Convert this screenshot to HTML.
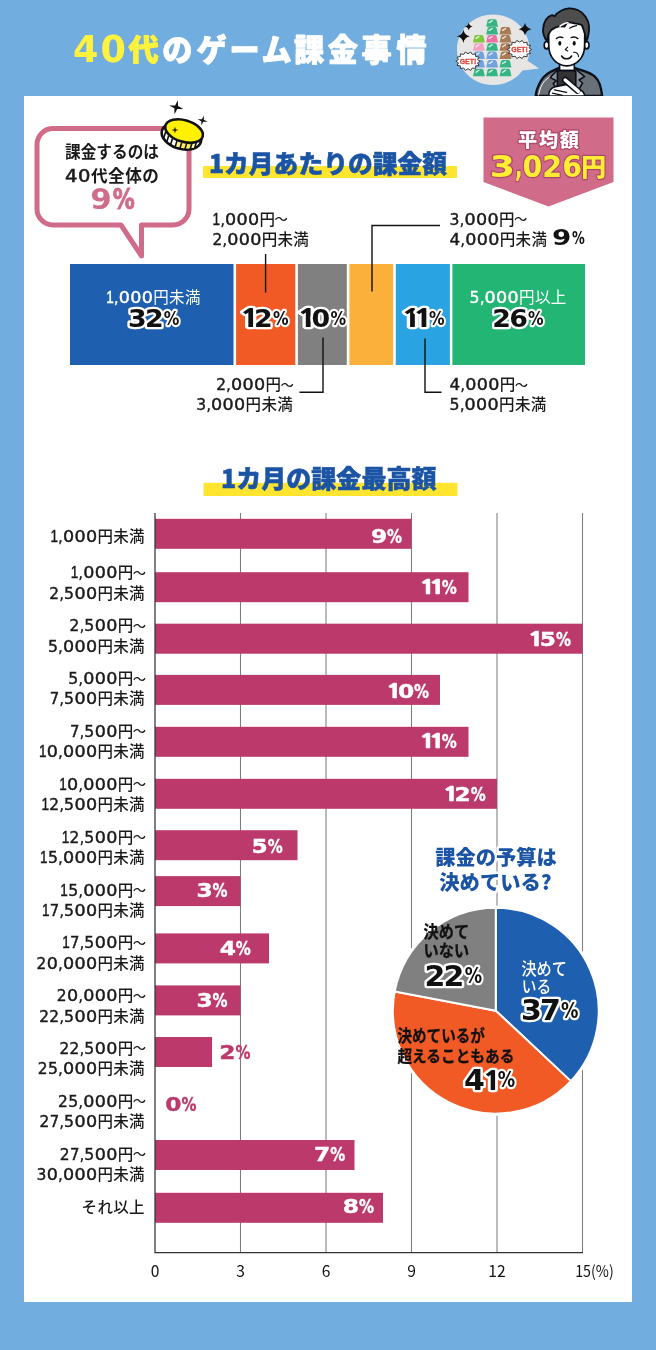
<!DOCTYPE html>
<html lang="ja">
<head>
<meta charset="utf-8">
<title>40代のゲーム課金事情</title>
<style>
html,body{margin:0;padding:0;background:#71AEDF;}
body{width:656px;height:1350px;overflow:hidden;font-family:"Liberation Sans","Noto Sans CJK JP",sans-serif;}
svg{display:block;}
text{white-space:pre;}
</style>
</head>
<body>
<svg width="656" height="1350" viewBox="0 0 656 1350">
<rect x="0" y="0" width="656" height="1350" fill="#71AEDF"/>
<g id="title">
<text y="61.2" text-anchor="middle" font-family="'Liberation Sans','Noto Sans CJK JP',sans-serif" font-size="30.2" font-weight="900" fill="#ffffff" stroke="#ffffff" stroke-width="0.9" stroke-linejoin="round"><tspan x="85.6 113.1" y="62.2" font-family="'DejaVu Sans','Liberation Sans',sans-serif" font-size="36.5" font-weight="700" fill="#FFF23F" stroke="none">40</tspan><tspan x="143.6" y="61.2" fill="#FFF23F" stroke="#FFF23F">代</tspan><tspan x="177.3 211.6 244.5 276.6 309.0 342.9 376.5 411.5" y="61.2">のゲーム課金事情</tspan></text>
</g>
<g id="illust">
<path d="M493,14.5 C513,14.5 529.5,30 529.5,49.5 C529.5,53.5 528.8,57.3 527.5,60.8 L539,68.5 L522.5,70.5 C516,79.3 505.3,85 493,85 C473,85 457,69.3 457,49.8 C457,30.2 473,14.5 493,14.5 Z" fill="#E8E6E4"/>
<path d="M489.2,19.2 H495.0 Q496.3,19.2 496.7,20.7 L498.0,26.7 H486.2 L487.5,20.7 Q487.9,19.2 489.2,19.2 Z" fill="#35B584"/>
<path d="M489.2,22.6 L492.2,20.7" stroke="#ffffff" stroke-width="1.3" stroke-linecap="round" opacity="0.85"/>
<path d="M489.2,27.0 H495.0 Q496.3,27.0 496.7,28.5 L498.0,34.5 H486.2 L487.5,28.5 Q487.9,27.0 489.2,27.0 Z" fill="#35B584"/>
<path d="M489.2,30.4 L492.2,28.5" stroke="#ffffff" stroke-width="1.3" stroke-linecap="round" opacity="0.85"/>
<path d="M502.6,27.0 H508.4 Q509.7,27.0 510.1,28.5 L511.4,34.5 H499.6 L500.9,28.5 Q501.3,27.0 502.6,27.0 Z" fill="#A87B55"/>
<path d="M502.6,30.4 L505.6,28.5" stroke="#ffffff" stroke-width="1.3" stroke-linecap="round" opacity="0.85"/>
<path d="M476.0,35.0 H481.8 Q483.1,35.0 483.5,36.5 L484.8,42.5 H473.0 L474.3,36.5 Q474.7,35.0 476.0,35.0 Z" fill="#7DC83F"/>
<path d="M476.0,38.4 L479.0,36.5" stroke="#ffffff" stroke-width="1.3" stroke-linecap="round" opacity="0.85"/>
<path d="M489.2,35.0 H495.0 Q496.3,35.0 496.7,36.5 L498.0,42.5 H486.2 L487.5,36.5 Q487.9,35.0 489.2,35.0 Z" fill="#EE6FA5"/>
<path d="M489.2,38.4 L492.2,36.5" stroke="#ffffff" stroke-width="1.3" stroke-linecap="round" opacity="0.85"/>
<path d="M502.6,35.0 H508.4 Q509.7,35.0 510.1,36.5 L511.4,42.5 H499.6 L500.9,36.5 Q501.3,35.0 502.6,35.0 Z" fill="#A87B55"/>
<path d="M502.6,38.4 L505.6,36.5" stroke="#ffffff" stroke-width="1.3" stroke-linecap="round" opacity="0.85"/>
<path d="M476.0,43.3 H481.8 Q483.1,43.3 483.5,44.8 L484.8,50.8 H473.0 L474.3,44.8 Q474.7,43.3 476.0,43.3 Z" fill="#F3A1C0"/>
<path d="M476.0,46.7 L479.0,44.8" stroke="#ffffff" stroke-width="1.3" stroke-linecap="round" opacity="0.85"/>
<path d="M489.2,43.3 H495.0 Q496.3,43.3 496.7,44.8 L498.0,50.8 H486.2 L487.5,44.8 Q487.9,43.3 489.2,43.3 Z" fill="#35B584"/>
<path d="M489.2,46.7 L492.2,44.8" stroke="#ffffff" stroke-width="1.3" stroke-linecap="round" opacity="0.85"/>
<path d="M502.6,43.3 H508.4 Q509.7,43.3 510.1,44.8 L511.4,50.8 H499.6 L500.9,44.8 Q501.3,43.3 502.6,43.3 Z" fill="#A87B55"/>
<path d="M502.6,46.7 L505.6,44.8" stroke="#ffffff" stroke-width="1.3" stroke-linecap="round" opacity="0.85"/>
<path d="M476.0,51.6 H481.8 Q483.1,51.6 483.5,53.1 L484.8,59.1 H473.0 L474.3,53.1 Q474.7,51.6 476.0,51.6 Z" fill="#6FA3DD"/>
<path d="M476.0,55.0 L479.0,53.1" stroke="#ffffff" stroke-width="1.3" stroke-linecap="round" opacity="0.85"/>
<path d="M489.2,51.6 H495.0 Q496.3,51.6 496.7,53.1 L498.0,59.1 H486.2 L487.5,53.1 Q487.9,51.6 489.2,51.6 Z" fill="#6FA3DD"/>
<path d="M489.2,55.0 L492.2,53.1" stroke="#ffffff" stroke-width="1.3" stroke-linecap="round" opacity="0.85"/>
<path d="M502.6,51.6 H508.4 Q509.7,51.6 510.1,53.1 L511.4,59.1 H499.6 L500.9,53.1 Q501.3,51.6 502.6,51.6 Z" fill="#A87B55"/>
<path d="M502.6,55.0 L505.6,53.1" stroke="#ffffff" stroke-width="1.3" stroke-linecap="round" opacity="0.85"/>
<path d="M476.0,60.1 H481.8 Q483.1,60.1 483.5,61.6 L484.8,67.6 H473.0 L474.3,61.6 Q474.7,60.1 476.0,60.1 Z" fill="#6FA3DD"/>
<path d="M476.0,63.5 L479.0,61.6" stroke="#ffffff" stroke-width="1.3" stroke-linecap="round" opacity="0.85"/>
<path d="M489.2,60.1 H495.0 Q496.3,60.1 496.7,61.6 L498.0,67.6 H486.2 L487.5,61.6 Q487.9,60.1 489.2,60.1 Z" fill="#6FA3DD"/>
<path d="M489.2,63.5 L492.2,61.6" stroke="#ffffff" stroke-width="1.3" stroke-linecap="round" opacity="0.85"/>
<path d="M502.6,60.1 H508.4 Q509.7,60.1 510.1,61.6 L511.4,67.6 H499.6 L500.9,61.6 Q501.3,60.1 502.6,60.1 Z" fill="#35B584"/>
<path d="M502.6,63.5 L505.6,61.6" stroke="#ffffff" stroke-width="1.3" stroke-linecap="round" opacity="0.85"/>
<path d="M476.0,68.8 H481.8 Q483.1,68.8 483.5,70.3 L484.8,76.3 H473.0 L474.3,70.3 Q474.7,68.8 476.0,68.8 Z" fill="#35B584"/>
<path d="M476.0,72.2 L479.0,70.3" stroke="#ffffff" stroke-width="1.3" stroke-linecap="round" opacity="0.85"/>
<path d="M489.2,68.8 H495.0 Q496.3,68.8 496.7,70.3 L498.0,76.3 H486.2 L487.5,70.3 Q487.9,68.8 489.2,68.8 Z" fill="#35B584"/>
<path d="M489.2,72.2 L492.2,70.3" stroke="#ffffff" stroke-width="1.3" stroke-linecap="round" opacity="0.85"/>
<path d="M502.6,68.8 H508.4 Q509.7,68.8 510.1,70.3 L511.4,76.3 H499.6 L500.9,70.3 Q501.3,68.8 502.6,68.8 Z" fill="#35B584"/>
<path d="M502.6,72.2 L505.6,70.3" stroke="#ffffff" stroke-width="1.3" stroke-linecap="round" opacity="0.85"/>
<polygon points="531.7,49.5 529.0,51.2 530.5,53.5 527.1,54.1 527.1,56.8 523.7,56.2 522.2,58.6 519.5,56.9 516.8,58.6 515.3,56.2 511.9,56.8 511.9,54.1 508.5,53.5 510.0,51.2 507.3,49.5 510.0,47.8 508.5,45.5 511.9,44.9 511.9,42.2 515.3,42.8 516.8,40.4 519.5,42.1 522.2,40.4 523.7,42.8 527.1,42.2 527.1,44.9 530.5,45.5 529.0,47.8" fill="#ffffff" stroke="#2a2a2a" stroke-width="0.9" stroke-linejoin="round"/>
<text x="519.6" y="52.1" text-anchor="middle" font-family="'Liberation Sans','Noto Sans CJK JP',sans-serif" font-size="7.2" font-weight="700" fill="#E2483D" stroke="#E2483D" stroke-width="0.3" textLength="16.6" lengthAdjust="spacingAndGlyphs">GET!</text>
<polygon points="480.2,61.2 477.5,62.9 479.0,65.3 475.6,65.9 475.6,68.5 472.2,68.0 470.7,70.4 468.0,68.7 465.3,70.4 463.8,68.0 460.4,68.5 460.4,65.9 457.0,65.3 458.5,62.9 455.8,61.2 458.5,59.5 457.0,57.1 460.4,56.5 460.4,53.9 463.8,54.4 465.3,52.0 468.0,53.7 470.7,52.0 472.2,54.4 475.6,53.9 475.6,56.5 479.0,57.1 477.5,59.5" fill="#ffffff" stroke="#2a2a2a" stroke-width="0.9" stroke-linejoin="round"/>
<text x="468" y="63.8" text-anchor="middle" font-family="'Liberation Sans','Noto Sans CJK JP',sans-serif" font-size="7.2" font-weight="700" fill="#E2483D" stroke="#E2483D" stroke-width="0.3" textLength="16.6" lengthAdjust="spacingAndGlyphs">GET!</text>
<path d="M463.4,29.699999999999996 Q464.45599999999996,35.244 470.0,36.3 Q464.45599999999996,37.355999999999995 463.4,42.9 Q462.344,37.355999999999995 456.79999999999995,36.3 Q462.344,35.244 463.4,29.699999999999996 Z" fill="#111"/>
<path d="M468.7,22.4 Q469.34,25.759999999999998 472.7,26.4 Q469.34,27.04 468.7,30.4 Q468.06,27.04 464.7,26.4 Q468.06,25.759999999999998 468.7,22.4 Z" fill="#111"/>
<path d="M525.0,22.799999999999997 Q526.024,28.176 531.4,29.2 Q526.024,30.224 525.0,35.6 Q523.976,30.224 518.6,29.2 Q523.976,28.176 525.0,22.799999999999997 Z" fill="#111"/>
<g id="man" stroke-linejoin="round" stroke-linecap="round">
<path d="M535.6,96 C536.3,91 537.4,87.6 538.8,85 C540.3,81.6 542,79 543.8,77 C546,74.8 548.6,73 551,71.6 L559.2,67.8 L566.8,79 L574.3,67.8 L585,71.3 C589,72.8 592.3,74.3 594.6,76.3 C597.2,78.6 598.8,81.3 599.8,84.3 C601,88 601.7,92 602.2,96 Z" fill="#6A7078" stroke="#0b0f18" stroke-width="2.3"/>
<path d="M538.6,95 C539.6,89 541.6,84.2 545,80.6 C547,78.6 549,77.2 551.2,76" fill="none" stroke="#ffffff" stroke-width="1" opacity="0.9"/>
<path d="M558.8,68.5 L550.2,77.6 L556.2,80.6 L553.2,83.6 L561,96" fill="#8A9097" stroke="#0b0f18" stroke-width="1.5"/>
<path d="M574.8,68.5 L584.6,76.6 L579,80 L582.6,83 L575,96" fill="#8A9097" stroke="#0b0f18" stroke-width="1.5"/>
<path d="M559.6,70.6 L559.6,62 H574.2 L574.4,70.6 Z" fill="#ffffff" stroke="#0b0f18" stroke-width="1.6"/>
<ellipse cx="546.6" cy="45.2" rx="2.4" ry="3.7" fill="#ffffff" stroke="#0b0f18" stroke-width="1.6"/>
<ellipse cx="586.6" cy="45.2" rx="2.4" ry="3.7" fill="#ffffff" stroke="#0b0f18" stroke-width="1.6"/>
<path d="M548.6,33 C548.6,24 557,20.5 567,20.5 C577,20.5 584.8,24 584.8,33 L584.6,46 C584.6,57 577,65.8 566.7,65.8 C556.5,65.8 548.8,57 548.8,46 Z" fill="#ffffff" stroke="#0b0f18" stroke-width="1.7"/>
<path d="M547.2,41.5 C544,37 542.6,33 543,29.5 C543.4,25 544.4,22 546,19.6 C547.6,17.4 549.6,16 552,15.2 L554.8,16.2 C556.4,13.6 558.6,12 561,10.8 C563.6,9.4 566,8.6 568.8,8.4 C572,8.2 575,8.8 577.8,10 C581,11.4 583.6,13.8 585.6,16.8 C587.6,19.8 588.8,22.8 589,26 C589.2,29.4 589,32 588.4,34.8 C588,37.4 587.2,39.6 586.2,41.6 C585.8,37 585,33 583.6,29.8 C583,27.8 582.4,26.2 581.6,24.8 C579.4,24.2 577,23.6 574.6,23.3 C572,22.6 570,22.2 567.7,22 C566.5,23.6 565.4,25 564.6,26.6 C562.8,26.2 560.6,26.2 558.8,26.3 C556,27 553.8,28.2 551.8,29.7 C550.2,31.2 549.2,32.8 548.4,34.7 C547.8,37 547.4,39.2 547.2,41.5 Z" fill="#4D4D4D" stroke="#0b0f18" stroke-width="1.8"/>
<path d="M560,26.2 C562.4,24.2 565,23 568,22.6" fill="none" stroke="#ffffff" stroke-width="1.5"/>
<path d="M569.6,28.2 C571.6,26.8 574,26 576.6,25.6" fill="none" stroke="#0b0f18" stroke-width="1.2"/>
<path d="M556.3,38.6 C558.3,36.9 560.8,36.7 562.8,37.6" fill="none" stroke="#111" stroke-width="1.4"/>
<path d="M571.2,37.6 C573.2,36.7 575.8,36.9 577.8,38.6" fill="none" stroke="#111" stroke-width="1.4"/>
<ellipse cx="559.8" cy="43.3" rx="1.5" ry="2.4" fill="#111"/>
<ellipse cx="574.2" cy="43.3" rx="1.5" ry="2.4" fill="#111"/>
<path d="M567.6,47.2 L565.2,49.6 L567.6,51" fill="none" stroke="#111" stroke-width="1.2"/>
<path d="M561.6,56 C564,59.8 569.2,59.8 571.6,56" fill="none" stroke="#111" stroke-width="1.5"/>
<path d="M573.6,52.2 C576.5,52 578.3,54 578.6,56.6" fill="none" stroke="#111" stroke-width="1.1"/>
<path d="M559.2,70.6 H574 Q575.8,70.6 575.8,72.4 V96 H557.4 V72.4 Q557.4,70.6 559.2,70.6 Z" fill="#333333" stroke="#0b0f18" stroke-width="1.6"/>
<path d="M548.8,96 C548.6,91.4 551.2,87.8 555.6,86.6 L565.5,84.6 L579.5,89.6 C582.8,91 584.4,93.4 584.8,96 Z" fill="#ffffff" stroke="#0b0f18" stroke-width="1.6"/>
<path d="M565.2,80 L577.4,90.6" fill="none" stroke="#0b0f18" stroke-width="6.4"/>
<path d="M565.2,80 L578.4,91.4" fill="none" stroke="#ffffff" stroke-width="3.5"/>
<path d="M554.4,89.8 L566.6,92.4 M552.4,93.2 L562.4,95.4" fill="none" stroke="#0b0f18" stroke-width="1.3"/>
</g>
</g>
<rect x="24" y="96" width="608" height="1206" fill="#ffffff"/>
<g id="top">
<rect x="203" y="166" width="254" height="12" fill="#FFE530"/>
<text x="209" y="172.6" font-family="'Noto Sans CJK JP','Liberation Sans',sans-serif" font-size="25" font-weight="900" fill="#1B54A4" stroke="#1B54A4" stroke-width="0.5" textLength="238" lengthAdjust="spacingAndGlyphs">1カ月あたりの課金額</text>
<path d="M53,128.5 H173 A16,16 0 0 1 189,144.5 V209 A16,16 0 0 1 173,225 H141.5 V256 L121,225 H53 A16,16 0 0 1 37,209 V144.5 A16,16 0 0 1 53,128.5 Z" fill="#ffffff" stroke="#D06C89" stroke-width="5" stroke-linejoin="round"/>
<text x="65" y="157.6" font-family="'Liberation Sans','Noto Sans CJK JP',sans-serif" font-size="16.6" font-weight="700" fill="#1a1a1a" textLength="94" lengthAdjust="spacingAndGlyphs">課金するのは</text>
<text x="65" y="181.8" font-family="'Liberation Sans','Noto Sans CJK JP',sans-serif" font-size="16.6" font-weight="700" fill="#1a1a1a" letter-spacing="0.5"><tspan font-family="'DejaVu Sans','Liberation Sans',sans-serif" font-size="17" font-weight="400" stroke="#1a1a1a" stroke-width="0.55" textLength="26" lengthAdjust="spacingAndGlyphs">40</tspan>代全体の</text>
<text x="90.3" y="209.3" font-family="'DejaVu Sans','Liberation Sans',sans-serif" font-size="28.5" font-weight="700" fill="#D06C89"><tspan textLength="21.5" lengthAdjust="spacingAndGlyphs">9</tspan><tspan dx="1" font-size="28" stroke="#D06C89" stroke-width="0.9" textLength="22" lengthAdjust="spacingAndGlyphs">%</tspan></text>
<g id="coin">
<path transform="rotate(14 176.2 107.2)" d="M176.2,100 L177.7,105.7 L183.4,107.2 L177.7,108.7 L176.2,114.4 L174.7,108.7 L169,107.2 L174.7,105.7 Z" fill="#111"/>
<path transform="rotate(14 202.6 120.5)" d="M202.6,115.3 L203.6,119.5 L207.8,120.5 L203.6,121.5 L202.6,125.7 L201.6,121.5 L197.4,120.5 L201.6,119.5 Z" fill="#111"/>
<g transform="translate(183,133.2) rotate(17)">
<ellipse cx="-0.6" cy="3.4" rx="20.3" ry="12.6" fill="#ffffff" stroke="#111" stroke-width="2.6"/>
<line x1="-1.0" y1="7.6" x2="-1.0" y2="14.6" stroke="#FFF780" stroke-width="3.4"/>
<line x1="4.0" y1="7.3" x2="4.0" y2="14.3" stroke="#FFF23C" stroke-width="3.4"/>
<line x1="9.0" y1="6.1" x2="9.0" y2="13.1" stroke="#FFF23C" stroke-width="3.4"/>
<line x1="13.5" y1="4.1" x2="13.5" y2="11.1" stroke="#FFF9A0" stroke-width="3.4"/>
<line x1="-17.0" y1="3.6" x2="-17.0" y2="10.8" stroke="#111" stroke-width="1.6"/>
<line x1="-13.0" y1="6.6" x2="-13.0" y2="13.4" stroke="#111" stroke-width="1.6"/>
<line x1="-8.5" y1="8.3" x2="-8.5" y2="15.0" stroke="#111" stroke-width="1.6"/>
<line x1="-3.5" y1="9.3" x2="-3.5" y2="15.9" stroke="#111" stroke-width="1.6"/>
<line x1="1.5" y1="9.5" x2="1.5" y2="15.9" stroke="#111" stroke-width="1.6"/>
<line x1="6.5" y1="8.8" x2="6.5" y2="15.2" stroke="#111" stroke-width="1.6"/>
<line x1="11.5" y1="7.3" x2="11.5" y2="13.5" stroke="#111" stroke-width="1.6"/>
<line x1="15.5" y1="5.0" x2="15.5" y2="11.1" stroke="#111" stroke-width="1.6"/>
<ellipse cx="0.4" cy="-2.4" rx="19.4" ry="10.8" fill="#FFF100" stroke="#111" stroke-width="2.6"/>
</g>
<path d="M175,126.5 L175.7,129.3 L178.5,130 L175.7,130.7 L175,133.5 L174.3,130.7 L171.5,130 L174.3,129.3 Z" fill="#111"/>
</g>
<path d="M483.5,117.5 H613.5 V182 L548.5,206.5 L483.5,182 Z" fill="#D06C89"/>
<text x="549.4" y="146.6" text-anchor="middle" font-family="'Liberation Sans','Noto Sans CJK JP',sans-serif" font-size="19.2" font-weight="900" fill="#ffffff" stroke="#B0486C" stroke-width="2.6" paint-order="stroke" stroke-linejoin="round" letter-spacing="1.7">平均額</text>
<text x="489.8" y="176.5" font-family="'DejaVu Sans','Liberation Sans',sans-serif" font-size="29.5" font-weight="700" fill="#FFEE33" stroke="#B0486C" stroke-width="2.4" paint-order="stroke" stroke-linejoin="round"><tspan textLength="25.2" lengthAdjust="spacingAndGlyphs">3</tspan><tspan textLength="7.5" lengthAdjust="spacingAndGlyphs">,</tspan><tspan textLength="59.5" lengthAdjust="spacingAndGlyphs">026</tspan><tspan x="581.2" y="175.9" font-family="'Liberation Sans','Noto Sans CJK JP',sans-serif" font-size="24.8" font-weight="900">円</tspan></text>
<rect x="70.0" y="264.0" width="163.5" height="101.0" fill="#1F5FB0"/>
<rect x="236.1" y="264.0" width="59.2" height="101.0" fill="#F15A24"/>
<rect x="297.9" y="264.0" width="48.9" height="101.0" fill="#808080"/>
<rect x="349.4" y="264.0" width="43.7" height="101.0" fill="#FBB03B"/>
<rect x="395.8" y="264.0" width="54.1" height="101.0" fill="#29A3E2"/>
<rect x="452.4" y="264.0" width="132.6" height="101.0" fill="#22B573"/>
<path d="M265.6,254 V292.5" stroke="#111" stroke-width="1.4" fill="none"/>
<path d="M299.5,392.2 H323 V337.5" stroke="#111" stroke-width="1.4" fill="none"/>
<path d="M440,225.5 H372 V291.5" stroke="#111" stroke-width="1.4" fill="none"/>
<path d="M425,338.5 V392.2 H441.5" stroke="#111" stroke-width="1.4" fill="none"/>
<text x="212.6" y="225.0" font-family="'Liberation Sans','Noto Sans CJK JP',sans-serif" font-size="15.5" font-weight="500" fill="#1a1a1a" letter-spacing="0.3"><tspan font-family="'DejaVu Sans','Liberation Sans',sans-serif" font-size="15.40" font-weight="400" stroke="#1a1a1a" stroke-width="0.42"><tspan font-family="'Liberation Sans','Noto Sans CJK JP',sans-serif" font-size="15.71" textLength="7.80" lengthAdjust="spacingAndGlyphs">1</tspan><tspan textLength="4.70" lengthAdjust="spacingAndGlyphs">,</tspan><tspan textLength="34.50" lengthAdjust="spacingAndGlyphs">000</tspan></tspan>円<tspan font-size="13.33" dx="-0.8" dy="-0.6" letter-spacing="-1.2">～</tspan></text>
<text x="212.4" y="245.3" font-family="'Liberation Sans','Noto Sans CJK JP',sans-serif" font-size="15.5" font-weight="500" fill="#1a1a1a" letter-spacing="0.3"><tspan font-family="'DejaVu Sans','Liberation Sans',sans-serif" font-size="15.40" font-weight="400" stroke="#1a1a1a" stroke-width="0.42"><tspan textLength="10.10" lengthAdjust="spacingAndGlyphs">2</tspan><tspan textLength="4.70" lengthAdjust="spacingAndGlyphs">,</tspan><tspan textLength="34.50" lengthAdjust="spacingAndGlyphs">000</tspan></tspan>円未満</text>
<text x="292.6" y="390.3" font-family="'Liberation Sans','Noto Sans CJK JP',sans-serif" font-size="15.5" font-weight="500" fill="#1a1a1a" letter-spacing="0.3" text-anchor="end"><tspan font-family="'DejaVu Sans','Liberation Sans',sans-serif" font-size="15.40" font-weight="400" stroke="#1a1a1a" stroke-width="0.42"><tspan textLength="10.10" lengthAdjust="spacingAndGlyphs">2</tspan><tspan textLength="4.70" lengthAdjust="spacingAndGlyphs">,</tspan><tspan textLength="34.50" lengthAdjust="spacingAndGlyphs">000</tspan></tspan>円<tspan font-size="13.33" dx="-0.8" dy="-0.6" letter-spacing="-1.2">～</tspan></text>
<text x="293.0" y="410.4" font-family="'Liberation Sans','Noto Sans CJK JP',sans-serif" font-size="15.5" font-weight="500" fill="#1a1a1a" letter-spacing="0.3" text-anchor="end"><tspan font-family="'DejaVu Sans','Liberation Sans',sans-serif" font-size="15.40" font-weight="400" stroke="#1a1a1a" stroke-width="0.42"><tspan textLength="10.20" lengthAdjust="spacingAndGlyphs">3</tspan><tspan textLength="4.70" lengthAdjust="spacingAndGlyphs">,</tspan><tspan textLength="34.50" lengthAdjust="spacingAndGlyphs">000</tspan></tspan>円未満</text>
<text x="449.6" y="224.7" font-family="'Liberation Sans','Noto Sans CJK JP',sans-serif" font-size="15.5" font-weight="500" fill="#1a1a1a" letter-spacing="0.3"><tspan font-family="'DejaVu Sans','Liberation Sans',sans-serif" font-size="15.40" font-weight="400" stroke="#1a1a1a" stroke-width="0.42"><tspan textLength="10.20" lengthAdjust="spacingAndGlyphs">3</tspan><tspan textLength="4.70" lengthAdjust="spacingAndGlyphs">,</tspan><tspan textLength="34.50" lengthAdjust="spacingAndGlyphs">000</tspan></tspan>円<tspan font-size="13.33" dx="-0.8" dy="-0.6" letter-spacing="-1.2">～</tspan></text>
<text x="449.6" y="245.3" font-family="'Liberation Sans','Noto Sans CJK JP',sans-serif" font-size="15.5" font-weight="500" fill="#1a1a1a" letter-spacing="0.3"><tspan font-family="'DejaVu Sans','Liberation Sans',sans-serif" font-size="15.40" font-weight="400" stroke="#1a1a1a" stroke-width="0.42"><tspan textLength="11.00" lengthAdjust="spacingAndGlyphs">4</tspan><tspan textLength="4.70" lengthAdjust="spacingAndGlyphs">,</tspan><tspan textLength="34.50" lengthAdjust="spacingAndGlyphs">000</tspan></tspan>円未満</text>
<text x="553.00" y="245.30" font-family="'DejaVu Sans','Liberation Sans',sans-serif" font-size="21.60" font-weight="700" fill="#111"><tspan dx="-0.88" textLength="19.36" lengthAdjust="spacingAndGlyphs">9</tspan><tspan font-size="17.40" dx="0.52" dy="-1.2" textLength="12.80" lengthAdjust="spacingAndGlyphs">%</tspan></text>
<text x="449.6" y="390.3" font-family="'Liberation Sans','Noto Sans CJK JP',sans-serif" font-size="15.5" font-weight="500" fill="#1a1a1a" letter-spacing="0.3"><tspan font-family="'DejaVu Sans','Liberation Sans',sans-serif" font-size="15.40" font-weight="400" stroke="#1a1a1a" stroke-width="0.42"><tspan textLength="11.00" lengthAdjust="spacingAndGlyphs">4</tspan><tspan textLength="4.70" lengthAdjust="spacingAndGlyphs">,</tspan><tspan textLength="34.50" lengthAdjust="spacingAndGlyphs">000</tspan></tspan>円<tspan font-size="13.33" dx="-0.8" dy="-0.6" letter-spacing="-1.2">～</tspan></text>
<text x="449.6" y="410.4" font-family="'Liberation Sans','Noto Sans CJK JP',sans-serif" font-size="15.5" font-weight="500" fill="#1a1a1a" letter-spacing="0.3"><tspan font-family="'DejaVu Sans','Liberation Sans',sans-serif" font-size="15.40" font-weight="400" stroke="#1a1a1a" stroke-width="0.42"><tspan textLength="10.30" lengthAdjust="spacingAndGlyphs">5</tspan><tspan textLength="4.70" lengthAdjust="spacingAndGlyphs">,</tspan><tspan textLength="34.50" lengthAdjust="spacingAndGlyphs">000</tspan></tspan>円未満</text>
<text x="106.3" y="303.0" font-family="'Liberation Sans','Noto Sans CJK JP',sans-serif" font-size="15.5" font-weight="400" fill="#ffffff" letter-spacing="0.3"><tspan font-family="'DejaVu Sans','Liberation Sans',sans-serif" font-size="15.40" font-weight="400" stroke="#ffffff" stroke-width="0.42"><tspan font-family="'Liberation Sans','Noto Sans CJK JP',sans-serif" font-size="15.71" textLength="7.80" lengthAdjust="spacingAndGlyphs">1</tspan><tspan textLength="4.70" lengthAdjust="spacingAndGlyphs">,</tspan><tspan textLength="34.50" lengthAdjust="spacingAndGlyphs">000</tspan></tspan>円未満</text>
<text x="469.6" y="303.0" font-family="'Liberation Sans','Noto Sans CJK JP',sans-serif" font-size="15.5" font-weight="400" fill="#ffffff" letter-spacing="0.3"><tspan font-family="'DejaVu Sans','Liberation Sans',sans-serif" font-size="15.40" font-weight="400" stroke="#ffffff" stroke-width="0.42"><tspan textLength="10.30" lengthAdjust="spacingAndGlyphs">5</tspan><tspan textLength="4.70" lengthAdjust="spacingAndGlyphs">,</tspan><tspan textLength="34.50" lengthAdjust="spacingAndGlyphs">000</tspan></tspan>円以上</text>
<text x="128.90" y="327.20" font-family="'DejaVu Sans','Liberation Sans',sans-serif" font-size="24.70" font-weight="700" fill="#111" stroke="#ffffff" stroke-width="4.4" paint-order="stroke" stroke-linejoin="round"><tspan dx="-0.85" textLength="18.70" lengthAdjust="spacingAndGlyphs">3</tspan><tspan dx="-1.70" textLength="18.70" lengthAdjust="spacingAndGlyphs">2</tspan><tspan font-size="18.80" dx="0.05" dy="-1.9" textLength="15.60" lengthAdjust="spacingAndGlyphs">%</tspan></text>
<text x="243.40" y="327.20" font-family="'DejaVu Sans','Liberation Sans',sans-serif" font-size="24.70" font-weight="700" fill="#111" stroke="#ffffff" stroke-width="4.4" paint-order="stroke" stroke-linejoin="round"><tspan font-family="'NanumGothic','Liberation Sans',sans-serif" font-weight="800" font-size="23.22" dx="-3.83" textLength="20.99" lengthAdjust="spacingAndGlyphs">1</tspan><tspan dx="-6.42" textLength="18.70" lengthAdjust="spacingAndGlyphs">2</tspan><tspan font-size="18.80" dx="0.05" dy="-1.9" textLength="15.60" lengthAdjust="spacingAndGlyphs">%</tspan></text>
<text x="300.90" y="327.20" font-family="'DejaVu Sans','Liberation Sans',sans-serif" font-size="24.70" font-weight="700" fill="#111" stroke="#ffffff" stroke-width="4.4" paint-order="stroke" stroke-linejoin="round"><tspan font-family="'NanumGothic','Liberation Sans',sans-serif" font-weight="800" font-size="23.22" dx="-3.83" textLength="20.99" lengthAdjust="spacingAndGlyphs">1</tspan><tspan dx="-6.42" textLength="18.70" lengthAdjust="spacingAndGlyphs">0</tspan><tspan font-size="18.80" dx="0.05" dy="-1.9" textLength="15.60" lengthAdjust="spacingAndGlyphs">%</tspan></text>
<text x="405.00" y="327.20" font-family="'DejaVu Sans','Liberation Sans',sans-serif" font-size="24.70" font-weight="700" fill="#111" stroke="#ffffff" stroke-width="4.4" paint-order="stroke" stroke-linejoin="round"><tspan font-family="'NanumGothic','Liberation Sans',sans-serif" font-weight="800" font-size="23.22" dx="-3.83" textLength="20.99" lengthAdjust="spacingAndGlyphs">1</tspan><tspan font-family="'NanumGothic','Liberation Sans',sans-serif" font-weight="800" font-size="23.22" dx="-9.39" textLength="20.99" lengthAdjust="spacingAndGlyphs">1</tspan><tspan font-size="18.80" dx="-4.67" dy="-1.9" textLength="15.60" lengthAdjust="spacingAndGlyphs">%</tspan></text>
<text x="493.00" y="327.20" font-family="'DejaVu Sans','Liberation Sans',sans-serif" font-size="24.70" font-weight="700" fill="#111" stroke="#ffffff" stroke-width="4.4" paint-order="stroke" stroke-linejoin="round"><tspan dx="-0.85" textLength="18.70" lengthAdjust="spacingAndGlyphs">2</tspan><tspan dx="-1.70" textLength="18.70" lengthAdjust="spacingAndGlyphs">6</tspan><tspan font-size="18.80" dx="0.05" dy="-1.9" textLength="15.60" lengthAdjust="spacingAndGlyphs">%</tspan></text>
</g>
<g id="chart">
<rect x="203.5" y="482.8" width="254" height="13.2" fill="#FFE530"/>
<text x="221" y="487.6" font-family="'Noto Sans CJK JP','Liberation Sans',sans-serif" font-size="25" font-weight="900" fill="#1B54A4" stroke="#1B54A4" stroke-width="0.5" textLength="215.5" lengthAdjust="spacingAndGlyphs">1カ月の課金最高額</text>
<line x1="240.5" y1="513.0" x2="240.5" y2="1252.6" stroke="#7d7d7d" stroke-width="1.05"/>
<line x1="326.0" y1="513.0" x2="326.0" y2="1252.6" stroke="#7d7d7d" stroke-width="1.05"/>
<line x1="411.5" y1="513.0" x2="411.5" y2="1252.6" stroke="#7d7d7d" stroke-width="1.05"/>
<line x1="497.0" y1="513.0" x2="497.0" y2="1252.6" stroke="#7d7d7d" stroke-width="1.05"/>
<line x1="582.5" y1="513.0" x2="582.5" y2="1252.6" stroke="#7d7d7d" stroke-width="1.05"/>
<rect x="155.0" y="518.8" width="256.5" height="30.0" fill="#BC3A6B"/>
<text x="371.40" y="542.60" font-family="'DejaVu Sans','Liberation Sans',sans-serif" font-size="19.80" font-weight="700" fill="#ffffff" stroke="#ffffff" stroke-width="0.4"><tspan dx="-0.46" textLength="16.22" lengthAdjust="spacingAndGlyphs">9</tspan><tspan font-size="19.70" dx="-0.16" dy="0" textLength="15.00" lengthAdjust="spacingAndGlyphs">%</tspan></text>
<text x="144.8" y="541.8000000000001" font-family="'Liberation Sans','Noto Sans CJK JP',sans-serif" font-size="15.5" font-weight="500" fill="#1a1a1a" letter-spacing="0.3" text-anchor="end"><tspan font-family="'DejaVu Sans','Liberation Sans',sans-serif" font-size="15.40" font-weight="400" stroke="#1a1a1a" stroke-width="0.42"><tspan font-family="'Liberation Sans','Noto Sans CJK JP',sans-serif" font-size="15.71" textLength="7.80" lengthAdjust="spacingAndGlyphs">1</tspan><tspan textLength="4.70" lengthAdjust="spacingAndGlyphs">,</tspan><tspan textLength="34.50" lengthAdjust="spacingAndGlyphs">000</tspan></tspan>円未満</text>
<rect x="155.0" y="572.2" width="313.5" height="30.0" fill="#BC3A6B"/>
<text x="422.20" y="594.40" font-family="'DejaVu Sans','Liberation Sans',sans-serif" font-size="19.80" font-weight="700" fill="#ffffff" stroke="#ffffff" stroke-width="0.4"><tspan font-family="'NanumGothic','Liberation Sans',sans-serif" font-weight="800" font-size="18.61" dx="-3.07" textLength="16.83" lengthAdjust="spacingAndGlyphs">1</tspan><tspan font-family="'NanumGothic','Liberation Sans',sans-serif" font-weight="800" font-size="18.61" dx="-7.23" textLength="16.83" lengthAdjust="spacingAndGlyphs">1</tspan><tspan font-size="19.70" dx="-3.86" dy="0" textLength="15.00" lengthAdjust="spacingAndGlyphs">%</tspan></text>
<text x="144.8" y="578.4" font-family="'Liberation Sans','Noto Sans CJK JP',sans-serif" font-size="15.5" font-weight="500" fill="#1a1a1a" letter-spacing="0.3" text-anchor="end"><tspan font-family="'DejaVu Sans','Liberation Sans',sans-serif" font-size="15.40" font-weight="400" stroke="#1a1a1a" stroke-width="0.42"><tspan font-family="'Liberation Sans','Noto Sans CJK JP',sans-serif" font-size="15.71" textLength="7.80" lengthAdjust="spacingAndGlyphs">1</tspan><tspan textLength="4.70" lengthAdjust="spacingAndGlyphs">,</tspan><tspan textLength="34.50" lengthAdjust="spacingAndGlyphs">000</tspan></tspan>円<tspan font-size="13.33" dx="-0.8" dy="-0.6" letter-spacing="-1.2">～</tspan></text>
<text x="144.8" y="598.6999999999999" font-family="'Liberation Sans','Noto Sans CJK JP',sans-serif" font-size="15.5" font-weight="500" fill="#1a1a1a" letter-spacing="0.3" text-anchor="end"><tspan font-family="'DejaVu Sans','Liberation Sans',sans-serif" font-size="15.40" font-weight="400" stroke="#1a1a1a" stroke-width="0.42"><tspan textLength="10.10" lengthAdjust="spacingAndGlyphs">2</tspan><tspan textLength="4.70" lengthAdjust="spacingAndGlyphs">,</tspan><tspan textLength="10.30" lengthAdjust="spacingAndGlyphs">5</tspan><tspan textLength="23.00" lengthAdjust="spacingAndGlyphs">00</tspan></tspan>円未満</text>
<rect x="155.0" y="623.7" width="427.5" height="30.0" fill="#BC3A6B"/>
<text x="530.70" y="646.30" font-family="'DejaVu Sans','Liberation Sans',sans-serif" font-size="19.80" font-weight="700" fill="#ffffff" stroke="#ffffff" stroke-width="0.4"><tspan font-family="'NanumGothic','Liberation Sans',sans-serif" font-weight="800" font-size="18.61" dx="-3.07" textLength="16.83" lengthAdjust="spacingAndGlyphs">1</tspan><tspan dx="-4.62" textLength="16.22" lengthAdjust="spacingAndGlyphs">5</tspan><tspan font-size="19.70" dx="-0.16" dy="0" textLength="15.00" lengthAdjust="spacingAndGlyphs">%</tspan></text>
<text x="144.8" y="631.25" font-family="'Liberation Sans','Noto Sans CJK JP',sans-serif" font-size="15.5" font-weight="500" fill="#1a1a1a" letter-spacing="0.3" text-anchor="end"><tspan font-family="'DejaVu Sans','Liberation Sans',sans-serif" font-size="15.40" font-weight="400" stroke="#1a1a1a" stroke-width="0.42"><tspan textLength="10.10" lengthAdjust="spacingAndGlyphs">2</tspan><tspan textLength="4.70" lengthAdjust="spacingAndGlyphs">,</tspan><tspan textLength="10.30" lengthAdjust="spacingAndGlyphs">5</tspan><tspan textLength="23.00" lengthAdjust="spacingAndGlyphs">00</tspan></tspan>円<tspan font-size="13.33" dx="-0.8" dy="-0.6" letter-spacing="-1.2">～</tspan></text>
<text x="144.8" y="651.55" font-family="'Liberation Sans','Noto Sans CJK JP',sans-serif" font-size="15.5" font-weight="500" fill="#1a1a1a" letter-spacing="0.3" text-anchor="end"><tspan font-family="'DejaVu Sans','Liberation Sans',sans-serif" font-size="15.40" font-weight="400" stroke="#1a1a1a" stroke-width="0.42"><tspan textLength="10.30" lengthAdjust="spacingAndGlyphs">5</tspan><tspan textLength="4.70" lengthAdjust="spacingAndGlyphs">,</tspan><tspan textLength="34.50" lengthAdjust="spacingAndGlyphs">000</tspan></tspan>円未満</text>
<rect x="155.0" y="674.9" width="285.0" height="30.0" fill="#BC3A6B"/>
<text x="388.80" y="698.00" font-family="'DejaVu Sans','Liberation Sans',sans-serif" font-size="19.80" font-weight="700" fill="#ffffff" stroke="#ffffff" stroke-width="0.4"><tspan font-family="'NanumGothic','Liberation Sans',sans-serif" font-weight="800" font-size="18.61" dx="-3.07" textLength="16.83" lengthAdjust="spacingAndGlyphs">1</tspan><tspan dx="-4.62" textLength="16.22" lengthAdjust="spacingAndGlyphs">0</tspan><tspan font-size="19.70" dx="-0.16" dy="0" textLength="15.00" lengthAdjust="spacingAndGlyphs">%</tspan></text>
<text x="144.8" y="684.1" font-family="'Liberation Sans','Noto Sans CJK JP',sans-serif" font-size="15.5" font-weight="500" fill="#1a1a1a" letter-spacing="0.3" text-anchor="end"><tspan font-family="'DejaVu Sans','Liberation Sans',sans-serif" font-size="15.40" font-weight="400" stroke="#1a1a1a" stroke-width="0.42"><tspan textLength="10.30" lengthAdjust="spacingAndGlyphs">5</tspan><tspan textLength="4.70" lengthAdjust="spacingAndGlyphs">,</tspan><tspan textLength="34.50" lengthAdjust="spacingAndGlyphs">000</tspan></tspan>円<tspan font-size="13.33" dx="-0.8" dy="-0.6" letter-spacing="-1.2">～</tspan></text>
<text x="144.8" y="704.4" font-family="'Liberation Sans','Noto Sans CJK JP',sans-serif" font-size="15.5" font-weight="500" fill="#1a1a1a" letter-spacing="0.3" text-anchor="end"><tspan font-family="'DejaVu Sans','Liberation Sans',sans-serif" font-size="15.40" font-weight="400" stroke="#1a1a1a" stroke-width="0.42"><tspan textLength="9.70" lengthAdjust="spacingAndGlyphs">7</tspan><tspan textLength="4.70" lengthAdjust="spacingAndGlyphs">,</tspan><tspan textLength="10.30" lengthAdjust="spacingAndGlyphs">5</tspan><tspan textLength="23.00" lengthAdjust="spacingAndGlyphs">00</tspan></tspan>円未満</text>
<rect x="155.0" y="726.8" width="313.5" height="30.0" fill="#BC3A6B"/>
<text x="422.20" y="747.90" font-family="'DejaVu Sans','Liberation Sans',sans-serif" font-size="19.80" font-weight="700" fill="#ffffff" stroke="#ffffff" stroke-width="0.4"><tspan font-family="'NanumGothic','Liberation Sans',sans-serif" font-weight="800" font-size="18.61" dx="-3.07" textLength="16.83" lengthAdjust="spacingAndGlyphs">1</tspan><tspan font-family="'NanumGothic','Liberation Sans',sans-serif" font-weight="800" font-size="18.61" dx="-7.23" textLength="16.83" lengthAdjust="spacingAndGlyphs">1</tspan><tspan font-size="19.70" dx="-3.86" dy="0" textLength="15.00" lengthAdjust="spacingAndGlyphs">%</tspan></text>
<text x="144.8" y="736.9499999999999" font-family="'Liberation Sans','Noto Sans CJK JP',sans-serif" font-size="15.5" font-weight="500" fill="#1a1a1a" letter-spacing="0.3" text-anchor="end"><tspan font-family="'DejaVu Sans','Liberation Sans',sans-serif" font-size="15.40" font-weight="400" stroke="#1a1a1a" stroke-width="0.42"><tspan textLength="9.70" lengthAdjust="spacingAndGlyphs">7</tspan><tspan textLength="4.70" lengthAdjust="spacingAndGlyphs">,</tspan><tspan textLength="10.30" lengthAdjust="spacingAndGlyphs">5</tspan><tspan textLength="23.00" lengthAdjust="spacingAndGlyphs">00</tspan></tspan>円<tspan font-size="13.33" dx="-0.8" dy="-0.6" letter-spacing="-1.2">～</tspan></text>
<text x="144.8" y="757.2499999999999" font-family="'Liberation Sans','Noto Sans CJK JP',sans-serif" font-size="15.5" font-weight="500" fill="#1a1a1a" letter-spacing="0.3" text-anchor="end"><tspan font-family="'DejaVu Sans','Liberation Sans',sans-serif" font-size="15.40" font-weight="400" stroke="#1a1a1a" stroke-width="0.42"><tspan font-family="'Liberation Sans','Noto Sans CJK JP',sans-serif" font-size="15.71" textLength="7.80" lengthAdjust="spacingAndGlyphs">1</tspan><tspan textLength="11.50" lengthAdjust="spacingAndGlyphs">0</tspan><tspan textLength="4.70" lengthAdjust="spacingAndGlyphs">,</tspan><tspan textLength="34.50" lengthAdjust="spacingAndGlyphs">000</tspan></tspan>円未満</text>
<rect x="155.0" y="778.8" width="342.0" height="30.0" fill="#BC3A6B"/>
<text x="445.50" y="800.50" font-family="'DejaVu Sans','Liberation Sans',sans-serif" font-size="19.80" font-weight="700" fill="#ffffff" stroke="#ffffff" stroke-width="0.4"><tspan font-family="'NanumGothic','Liberation Sans',sans-serif" font-weight="800" font-size="18.61" dx="-3.07" textLength="16.83" lengthAdjust="spacingAndGlyphs">1</tspan><tspan dx="-4.62" textLength="16.22" lengthAdjust="spacingAndGlyphs">2</tspan><tspan font-size="19.70" dx="-0.16" dy="0" textLength="15.00" lengthAdjust="spacingAndGlyphs">%</tspan></text>
<text x="144.8" y="789.8" font-family="'Liberation Sans','Noto Sans CJK JP',sans-serif" font-size="15.5" font-weight="500" fill="#1a1a1a" letter-spacing="0.3" text-anchor="end"><tspan font-family="'DejaVu Sans','Liberation Sans',sans-serif" font-size="15.40" font-weight="400" stroke="#1a1a1a" stroke-width="0.42"><tspan font-family="'Liberation Sans','Noto Sans CJK JP',sans-serif" font-size="15.71" textLength="7.80" lengthAdjust="spacingAndGlyphs">1</tspan><tspan textLength="11.50" lengthAdjust="spacingAndGlyphs">0</tspan><tspan textLength="4.70" lengthAdjust="spacingAndGlyphs">,</tspan><tspan textLength="34.50" lengthAdjust="spacingAndGlyphs">000</tspan></tspan>円<tspan font-size="13.33" dx="-0.8" dy="-0.6" letter-spacing="-1.2">～</tspan></text>
<text x="144.8" y="810.0999999999999" font-family="'Liberation Sans','Noto Sans CJK JP',sans-serif" font-size="15.5" font-weight="500" fill="#1a1a1a" letter-spacing="0.3" text-anchor="end"><tspan font-family="'DejaVu Sans','Liberation Sans',sans-serif" font-size="15.40" font-weight="400" stroke="#1a1a1a" stroke-width="0.42"><tspan font-family="'Liberation Sans','Noto Sans CJK JP',sans-serif" font-size="15.71" textLength="7.80" lengthAdjust="spacingAndGlyphs">1</tspan><tspan textLength="10.10" lengthAdjust="spacingAndGlyphs">2</tspan><tspan textLength="4.70" lengthAdjust="spacingAndGlyphs">,</tspan><tspan textLength="10.30" lengthAdjust="spacingAndGlyphs">5</tspan><tspan textLength="23.00" lengthAdjust="spacingAndGlyphs">00</tspan></tspan>円未満</text>
<rect x="155.0" y="830.2" width="142.5" height="30.0" fill="#BC3A6B"/>
<text x="252.10" y="852.50" font-family="'DejaVu Sans','Liberation Sans',sans-serif" font-size="19.80" font-weight="700" fill="#ffffff" stroke="#ffffff" stroke-width="0.4"><tspan dx="-0.46" textLength="16.22" lengthAdjust="spacingAndGlyphs">5</tspan><tspan font-size="19.70" dx="-0.16" dy="0" textLength="15.00" lengthAdjust="spacingAndGlyphs">%</tspan></text>
<text x="144.8" y="842.65" font-family="'Liberation Sans','Noto Sans CJK JP',sans-serif" font-size="15.5" font-weight="500" fill="#1a1a1a" letter-spacing="0.3" text-anchor="end"><tspan font-family="'DejaVu Sans','Liberation Sans',sans-serif" font-size="15.40" font-weight="400" stroke="#1a1a1a" stroke-width="0.42"><tspan font-family="'Liberation Sans','Noto Sans CJK JP',sans-serif" font-size="15.71" textLength="7.80" lengthAdjust="spacingAndGlyphs">1</tspan><tspan textLength="10.10" lengthAdjust="spacingAndGlyphs">2</tspan><tspan textLength="4.70" lengthAdjust="spacingAndGlyphs">,</tspan><tspan textLength="10.30" lengthAdjust="spacingAndGlyphs">5</tspan><tspan textLength="23.00" lengthAdjust="spacingAndGlyphs">00</tspan></tspan>円<tspan font-size="13.33" dx="-0.8" dy="-0.6" letter-spacing="-1.2">～</tspan></text>
<text x="144.8" y="862.9499999999999" font-family="'Liberation Sans','Noto Sans CJK JP',sans-serif" font-size="15.5" font-weight="500" fill="#1a1a1a" letter-spacing="0.3" text-anchor="end"><tspan font-family="'DejaVu Sans','Liberation Sans',sans-serif" font-size="15.40" font-weight="400" stroke="#1a1a1a" stroke-width="0.42"><tspan font-family="'Liberation Sans','Noto Sans CJK JP',sans-serif" font-size="15.71" textLength="7.80" lengthAdjust="spacingAndGlyphs">1</tspan><tspan textLength="10.30" lengthAdjust="spacingAndGlyphs">5</tspan><tspan textLength="4.70" lengthAdjust="spacingAndGlyphs">,</tspan><tspan textLength="34.50" lengthAdjust="spacingAndGlyphs">000</tspan></tspan>円未満</text>
<rect x="155.0" y="876.1" width="85.5" height="30.0" fill="#BC3A6B"/>
<text x="197.00" y="896.80" font-family="'DejaVu Sans','Liberation Sans',sans-serif" font-size="19.80" font-weight="700" fill="#ffffff" stroke="#ffffff" stroke-width="0.4"><tspan dx="-0.46" textLength="16.22" lengthAdjust="spacingAndGlyphs">3</tspan><tspan font-size="19.70" dx="-0.16" dy="0" textLength="15.00" lengthAdjust="spacingAndGlyphs">%</tspan></text>
<text x="144.8" y="895.5" font-family="'Liberation Sans','Noto Sans CJK JP',sans-serif" font-size="15.5" font-weight="500" fill="#1a1a1a" letter-spacing="0.3" text-anchor="end"><tspan font-family="'DejaVu Sans','Liberation Sans',sans-serif" font-size="15.40" font-weight="400" stroke="#1a1a1a" stroke-width="0.42"><tspan font-family="'Liberation Sans','Noto Sans CJK JP',sans-serif" font-size="15.71" textLength="7.80" lengthAdjust="spacingAndGlyphs">1</tspan><tspan textLength="10.30" lengthAdjust="spacingAndGlyphs">5</tspan><tspan textLength="4.70" lengthAdjust="spacingAndGlyphs">,</tspan><tspan textLength="34.50" lengthAdjust="spacingAndGlyphs">000</tspan></tspan>円<tspan font-size="13.33" dx="-0.8" dy="-0.6" letter-spacing="-1.2">～</tspan></text>
<text x="144.8" y="915.8" font-family="'Liberation Sans','Noto Sans CJK JP',sans-serif" font-size="15.5" font-weight="500" fill="#1a1a1a" letter-spacing="0.3" text-anchor="end"><tspan font-family="'DejaVu Sans','Liberation Sans',sans-serif" font-size="15.40" font-weight="400" stroke="#1a1a1a" stroke-width="0.42"><tspan font-family="'Liberation Sans','Noto Sans CJK JP',sans-serif" font-size="15.71" textLength="7.80" lengthAdjust="spacingAndGlyphs">1</tspan><tspan textLength="9.70" lengthAdjust="spacingAndGlyphs">7</tspan><tspan textLength="4.70" lengthAdjust="spacingAndGlyphs">,</tspan><tspan textLength="10.30" lengthAdjust="spacingAndGlyphs">5</tspan><tspan textLength="23.00" lengthAdjust="spacingAndGlyphs">00</tspan></tspan>円未満</text>
<rect x="155.0" y="933.4" width="114.0" height="30.0" fill="#BC3A6B"/>
<text x="220.20" y="955.20" font-family="'DejaVu Sans','Liberation Sans',sans-serif" font-size="19.80" font-weight="700" fill="#ffffff" stroke="#ffffff" stroke-width="0.4"><tspan dx="-0.46" textLength="16.22" lengthAdjust="spacingAndGlyphs">4</tspan><tspan font-size="19.70" dx="-0.16" dy="0" textLength="15.00" lengthAdjust="spacingAndGlyphs">%</tspan></text>
<text x="144.8" y="948.35" font-family="'Liberation Sans','Noto Sans CJK JP',sans-serif" font-size="15.5" font-weight="500" fill="#1a1a1a" letter-spacing="0.3" text-anchor="end"><tspan font-family="'DejaVu Sans','Liberation Sans',sans-serif" font-size="15.40" font-weight="400" stroke="#1a1a1a" stroke-width="0.42"><tspan font-family="'Liberation Sans','Noto Sans CJK JP',sans-serif" font-size="15.71" textLength="7.80" lengthAdjust="spacingAndGlyphs">1</tspan><tspan textLength="9.70" lengthAdjust="spacingAndGlyphs">7</tspan><tspan textLength="4.70" lengthAdjust="spacingAndGlyphs">,</tspan><tspan textLength="10.30" lengthAdjust="spacingAndGlyphs">5</tspan><tspan textLength="23.00" lengthAdjust="spacingAndGlyphs">00</tspan></tspan>円<tspan font-size="13.33" dx="-0.8" dy="-0.6" letter-spacing="-1.2">～</tspan></text>
<text x="144.8" y="968.65" font-family="'Liberation Sans','Noto Sans CJK JP',sans-serif" font-size="15.5" font-weight="500" fill="#1a1a1a" letter-spacing="0.3" text-anchor="end"><tspan font-family="'DejaVu Sans','Liberation Sans',sans-serif" font-size="15.40" font-weight="400" stroke="#1a1a1a" stroke-width="0.42"><tspan textLength="10.10" lengthAdjust="spacingAndGlyphs">2</tspan><tspan textLength="11.50" lengthAdjust="spacingAndGlyphs">0</tspan><tspan textLength="4.70" lengthAdjust="spacingAndGlyphs">,</tspan><tspan textLength="34.50" lengthAdjust="spacingAndGlyphs">000</tspan></tspan>円未満</text>
<rect x="155.0" y="985.4" width="85.5" height="30.0" fill="#BC3A6B"/>
<text x="197.00" y="1007.10" font-family="'DejaVu Sans','Liberation Sans',sans-serif" font-size="19.80" font-weight="700" fill="#ffffff" stroke="#ffffff" stroke-width="0.4"><tspan dx="-0.46" textLength="16.22" lengthAdjust="spacingAndGlyphs">3</tspan><tspan font-size="19.70" dx="-0.16" dy="0" textLength="15.00" lengthAdjust="spacingAndGlyphs">%</tspan></text>
<text x="144.8" y="1001.1999999999999" font-family="'Liberation Sans','Noto Sans CJK JP',sans-serif" font-size="15.5" font-weight="500" fill="#1a1a1a" letter-spacing="0.3" text-anchor="end"><tspan font-family="'DejaVu Sans','Liberation Sans',sans-serif" font-size="15.40" font-weight="400" stroke="#1a1a1a" stroke-width="0.42"><tspan textLength="10.10" lengthAdjust="spacingAndGlyphs">2</tspan><tspan textLength="11.50" lengthAdjust="spacingAndGlyphs">0</tspan><tspan textLength="4.70" lengthAdjust="spacingAndGlyphs">,</tspan><tspan textLength="34.50" lengthAdjust="spacingAndGlyphs">000</tspan></tspan>円<tspan font-size="13.33" dx="-0.8" dy="-0.6" letter-spacing="-1.2">～</tspan></text>
<text x="144.8" y="1021.4999999999999" font-family="'Liberation Sans','Noto Sans CJK JP',sans-serif" font-size="15.5" font-weight="500" fill="#1a1a1a" letter-spacing="0.3" text-anchor="end"><tspan font-family="'DejaVu Sans','Liberation Sans',sans-serif" font-size="15.40" font-weight="400" stroke="#1a1a1a" stroke-width="0.42"><tspan textLength="20.20" lengthAdjust="spacingAndGlyphs">22</tspan><tspan textLength="4.70" lengthAdjust="spacingAndGlyphs">,</tspan><tspan textLength="10.30" lengthAdjust="spacingAndGlyphs">5</tspan><tspan textLength="23.00" lengthAdjust="spacingAndGlyphs">00</tspan></tspan>円未満</text>
<rect x="155.0" y="1037.0" width="57.0" height="30.0" fill="#BC3A6B"/>
<text x="219.80" y="1058.60" font-family="'DejaVu Sans','Liberation Sans',sans-serif" font-size="19.80" font-weight="700" fill="#BC3A6B" stroke="#BC3A6B" stroke-width="0.4"><tspan dx="-0.46" textLength="16.22" lengthAdjust="spacingAndGlyphs">2</tspan><tspan font-size="19.70" dx="-0.16" dy="0" textLength="15.00" lengthAdjust="spacingAndGlyphs">%</tspan></text>
<text x="144.8" y="1054.05" font-family="'Liberation Sans','Noto Sans CJK JP',sans-serif" font-size="15.5" font-weight="500" fill="#1a1a1a" letter-spacing="0.3" text-anchor="end"><tspan font-family="'DejaVu Sans','Liberation Sans',sans-serif" font-size="15.40" font-weight="400" stroke="#1a1a1a" stroke-width="0.42"><tspan textLength="20.20" lengthAdjust="spacingAndGlyphs">22</tspan><tspan textLength="4.70" lengthAdjust="spacingAndGlyphs">,</tspan><tspan textLength="10.30" lengthAdjust="spacingAndGlyphs">5</tspan><tspan textLength="23.00" lengthAdjust="spacingAndGlyphs">00</tspan></tspan>円<tspan font-size="13.33" dx="-0.8" dy="-0.6" letter-spacing="-1.2">～</tspan></text>
<text x="144.8" y="1074.35" font-family="'Liberation Sans','Noto Sans CJK JP',sans-serif" font-size="15.5" font-weight="500" fill="#1a1a1a" letter-spacing="0.3" text-anchor="end"><tspan font-family="'DejaVu Sans','Liberation Sans',sans-serif" font-size="15.40" font-weight="400" stroke="#1a1a1a" stroke-width="0.42"><tspan textLength="10.10" lengthAdjust="spacingAndGlyphs">2</tspan><tspan textLength="10.30" lengthAdjust="spacingAndGlyphs">5</tspan><tspan textLength="4.70" lengthAdjust="spacingAndGlyphs">,</tspan><tspan textLength="34.50" lengthAdjust="spacingAndGlyphs">000</tspan></tspan>円未満</text>
<text x="165.80" y="1110.60" font-family="'DejaVu Sans','Liberation Sans',sans-serif" font-size="19.80" font-weight="700" fill="#BC3A6B" stroke="#BC3A6B" stroke-width="0.4"><tspan dx="-0.46" textLength="16.22" lengthAdjust="spacingAndGlyphs">0</tspan><tspan font-size="19.70" dx="-0.16" dy="0" textLength="15.00" lengthAdjust="spacingAndGlyphs">%</tspan></text>
<text x="144.8" y="1106.8999999999999" font-family="'Liberation Sans','Noto Sans CJK JP',sans-serif" font-size="15.5" font-weight="500" fill="#1a1a1a" letter-spacing="0.3" text-anchor="end"><tspan font-family="'DejaVu Sans','Liberation Sans',sans-serif" font-size="15.40" font-weight="400" stroke="#1a1a1a" stroke-width="0.42"><tspan textLength="10.10" lengthAdjust="spacingAndGlyphs">2</tspan><tspan textLength="10.30" lengthAdjust="spacingAndGlyphs">5</tspan><tspan textLength="4.70" lengthAdjust="spacingAndGlyphs">,</tspan><tspan textLength="34.50" lengthAdjust="spacingAndGlyphs">000</tspan></tspan>円<tspan font-size="13.33" dx="-0.8" dy="-0.6" letter-spacing="-1.2">～</tspan></text>
<text x="144.8" y="1127.1999999999998" font-family="'Liberation Sans','Noto Sans CJK JP',sans-serif" font-size="15.5" font-weight="500" fill="#1a1a1a" letter-spacing="0.3" text-anchor="end"><tspan font-family="'DejaVu Sans','Liberation Sans',sans-serif" font-size="15.40" font-weight="400" stroke="#1a1a1a" stroke-width="0.42"><tspan textLength="10.10" lengthAdjust="spacingAndGlyphs">2</tspan><tspan textLength="9.70" lengthAdjust="spacingAndGlyphs">7</tspan><tspan textLength="4.70" lengthAdjust="spacingAndGlyphs">,</tspan><tspan textLength="10.30" lengthAdjust="spacingAndGlyphs">5</tspan><tspan textLength="23.00" lengthAdjust="spacingAndGlyphs">00</tspan></tspan>円未満</text>
<rect x="155.0" y="1140.0" width="199.5" height="30.0" fill="#BC3A6B"/>
<text x="314.60" y="1160.90" font-family="'DejaVu Sans','Liberation Sans',sans-serif" font-size="19.80" font-weight="700" fill="#ffffff" stroke="#ffffff" stroke-width="0.4"><tspan dx="-0.46" textLength="16.22" lengthAdjust="spacingAndGlyphs">7</tspan><tspan font-size="19.70" dx="-0.16" dy="0" textLength="15.00" lengthAdjust="spacingAndGlyphs">%</tspan></text>
<text x="144.8" y="1159.75" font-family="'Liberation Sans','Noto Sans CJK JP',sans-serif" font-size="15.5" font-weight="500" fill="#1a1a1a" letter-spacing="0.3" text-anchor="end"><tspan font-family="'DejaVu Sans','Liberation Sans',sans-serif" font-size="15.40" font-weight="400" stroke="#1a1a1a" stroke-width="0.42"><tspan textLength="10.10" lengthAdjust="spacingAndGlyphs">2</tspan><tspan textLength="9.70" lengthAdjust="spacingAndGlyphs">7</tspan><tspan textLength="4.70" lengthAdjust="spacingAndGlyphs">,</tspan><tspan textLength="10.30" lengthAdjust="spacingAndGlyphs">5</tspan><tspan textLength="23.00" lengthAdjust="spacingAndGlyphs">00</tspan></tspan>円<tspan font-size="13.33" dx="-0.8" dy="-0.6" letter-spacing="-1.2">～</tspan></text>
<text x="144.8" y="1180.05" font-family="'Liberation Sans','Noto Sans CJK JP',sans-serif" font-size="15.5" font-weight="500" fill="#1a1a1a" letter-spacing="0.3" text-anchor="end"><tspan font-family="'DejaVu Sans','Liberation Sans',sans-serif" font-size="15.40" font-weight="400" stroke="#1a1a1a" stroke-width="0.42"><tspan textLength="10.20" lengthAdjust="spacingAndGlyphs">3</tspan><tspan textLength="11.50" lengthAdjust="spacingAndGlyphs">0</tspan><tspan textLength="4.70" lengthAdjust="spacingAndGlyphs">,</tspan><tspan textLength="34.50" lengthAdjust="spacingAndGlyphs">000</tspan></tspan>円未満</text>
<rect x="155.0" y="1192.8" width="228.0" height="30.0" fill="#BC3A6B"/>
<text x="343.30" y="1212.90" font-family="'DejaVu Sans','Liberation Sans',sans-serif" font-size="19.80" font-weight="700" fill="#ffffff" stroke="#ffffff" stroke-width="0.4"><tspan dx="-0.46" textLength="16.22" lengthAdjust="spacingAndGlyphs">8</tspan><tspan font-size="19.70" dx="-0.16" dy="0" textLength="15.00" lengthAdjust="spacingAndGlyphs">%</tspan></text>
<text x="144.8" y="1212.6" font-family="'Liberation Sans','Noto Sans CJK JP',sans-serif" font-size="15.5" font-weight="500" fill="#1a1a1a" letter-spacing="0.3" text-anchor="end">それ以上</text>
<path d="M155.0,513.0 V1252.6 H583" stroke="#333" stroke-width="1.25" fill="none"/>
<text x="155.0" y="1276.8" font-family="'Noto Sans CJK JP','Liberation Sans',sans-serif" font-size="15.6" font-weight="400" fill="#111" text-anchor="middle">0</text>
<text x="240.5" y="1276.8" font-family="'Noto Sans CJK JP','Liberation Sans',sans-serif" font-size="15.6" font-weight="400" fill="#111" text-anchor="middle">3</text>
<text x="326.0" y="1276.8" font-family="'Noto Sans CJK JP','Liberation Sans',sans-serif" font-size="15.6" font-weight="400" fill="#111" text-anchor="middle">6</text>
<text x="411.5" y="1276.8" font-family="'Noto Sans CJK JP','Liberation Sans',sans-serif" font-size="15.6" font-weight="400" fill="#111" text-anchor="middle">9</text>
<text x="497.0" y="1276.8" font-family="'Noto Sans CJK JP','Liberation Sans',sans-serif" font-size="15.6" font-weight="400" fill="#111" text-anchor="middle">12</text>
<text x="575.2" y="1276.8" font-family="'Noto Sans CJK JP','Liberation Sans',sans-serif" font-size="15.6" font-weight="400" fill="#111" textLength="38.5" lengthAdjust="spacingAndGlyphs">15(%)</text>
</g>
<g id="pie">
<circle cx="495.8" cy="1010.7" r="105.10000000000001" fill="#ffffff"/>
<path d="M495.8,1010.7 L495.80,907.80 A102.9,102.9 0 0 1 570.81,1081.14 Z" fill="#1F5FB0" stroke="#ffffff" stroke-width="2" stroke-linejoin="round"/>
<path d="M495.8,1010.7 L570.81,1081.14 A102.9,102.9 0 0 1 394.72,991.42 Z" fill="#F15A24" stroke="#ffffff" stroke-width="2" stroke-linejoin="round"/>
<path d="M495.8,1010.7 L394.72,991.42 A102.9,102.9 0 0 1 495.80,907.80 Z" fill="#808080" stroke="#ffffff" stroke-width="2" stroke-linejoin="round"/>
<text x="496" y="865.3" text-anchor="middle" font-family="'Noto Sans CJK JP','Liberation Sans',sans-serif" font-size="20.4" font-weight="900" fill="#1B54A4" stroke="#ffffff" stroke-width="5" paint-order="stroke" stroke-linejoin="round" textLength="121.5" lengthAdjust="spacingAndGlyphs">課金の予算は</text>
<text x="495.5" y="889.8" text-anchor="middle" font-family="'Noto Sans CJK JP','Liberation Sans',sans-serif" font-size="20.4" font-weight="900" fill="#1B54A4" stroke="#ffffff" stroke-width="5" paint-order="stroke" stroke-linejoin="round" textLength="112.5" lengthAdjust="spacingAndGlyphs">決めている?</text>
<text x="423.6" y="938.0" font-family="'Liberation Sans','Noto Sans CJK JP',sans-serif" font-size="16.6" font-weight="700" fill="#111" textLength="45.5" lengthAdjust="spacingAndGlyphs" stroke="#111" stroke-width="0.3">決めて</text>
<text x="423.6" y="957.4" font-family="'Liberation Sans','Noto Sans CJK JP',sans-serif" font-size="16.6" font-weight="700" fill="#111" textLength="45.5" lengthAdjust="spacingAndGlyphs" stroke="#111" stroke-width="0.3">いない</text>
<text x="425.50" y="985.60" font-family="'DejaVu Sans','Liberation Sans',sans-serif" font-size="27.80" font-weight="700" fill="#111" stroke="#ffffff" stroke-width="4.6" paint-order="stroke" stroke-linejoin="round"><tspan dx="-0.95" textLength="20.90" lengthAdjust="spacingAndGlyphs">2</tspan><tspan dx="-1.90" textLength="20.90" lengthAdjust="spacingAndGlyphs">2</tspan><tspan font-size="20.60" dx="0.25" dy="-2.6" textLength="17.40" lengthAdjust="spacingAndGlyphs">%</tspan></text>
<text x="521.4" y="974.6" font-family="'Liberation Sans','Noto Sans CJK JP',sans-serif" font-size="16.6" font-weight="500" fill="#ffffff" textLength="45.5" lengthAdjust="spacingAndGlyphs">決めて</text>
<text x="521.8" y="993.4" font-family="'Liberation Sans','Noto Sans CJK JP',sans-serif" font-size="16.6" font-weight="500" fill="#ffffff" textLength="29.5" lengthAdjust="spacingAndGlyphs">いる</text>
<text x="521.90" y="1020.40" font-family="'DejaVu Sans','Liberation Sans',sans-serif" font-size="27.80" font-weight="700" fill="#111" stroke="#ffffff" stroke-width="4.6" paint-order="stroke" stroke-linejoin="round"><tspan dx="-0.95" textLength="20.90" lengthAdjust="spacingAndGlyphs">3</tspan><tspan dx="-1.90" textLength="20.90" lengthAdjust="spacingAndGlyphs">7</tspan><tspan font-size="20.60" dx="0.25" dy="-2.6" textLength="17.40" lengthAdjust="spacingAndGlyphs">%</tspan></text>
<text x="397.4" y="1042.2" font-family="'Liberation Sans','Noto Sans CJK JP',sans-serif" font-size="17" font-weight="700" fill="#111" textLength="87.5" lengthAdjust="spacingAndGlyphs" stroke="#111" stroke-width="0.3">決めているが</text>
<text x="397.4" y="1061.6" font-family="'Liberation Sans','Noto Sans CJK JP',sans-serif" font-size="16.4" font-weight="700" fill="#111" textLength="117" lengthAdjust="spacingAndGlyphs" stroke="#111" stroke-width="0.3">超えることもある</text>
<text x="465.00" y="1090.00" font-family="'DejaVu Sans','Liberation Sans',sans-serif" font-size="27.80" font-weight="700" fill="#111" stroke="#ffffff" stroke-width="4.6" paint-order="stroke" stroke-linejoin="round"><tspan dx="-0.95" textLength="20.90" lengthAdjust="spacingAndGlyphs">4</tspan><tspan font-family="'NanumGothic','Liberation Sans',sans-serif" font-weight="800" font-size="26.13" dx="-2.35" textLength="19.50" lengthAdjust="spacingAndGlyphs">1</tspan><tspan font-size="20.60" dx="-4.30" dy="-2.6" textLength="17.40" lengthAdjust="spacingAndGlyphs">%</tspan></text>
</g>
</svg>
</body>
</html>
